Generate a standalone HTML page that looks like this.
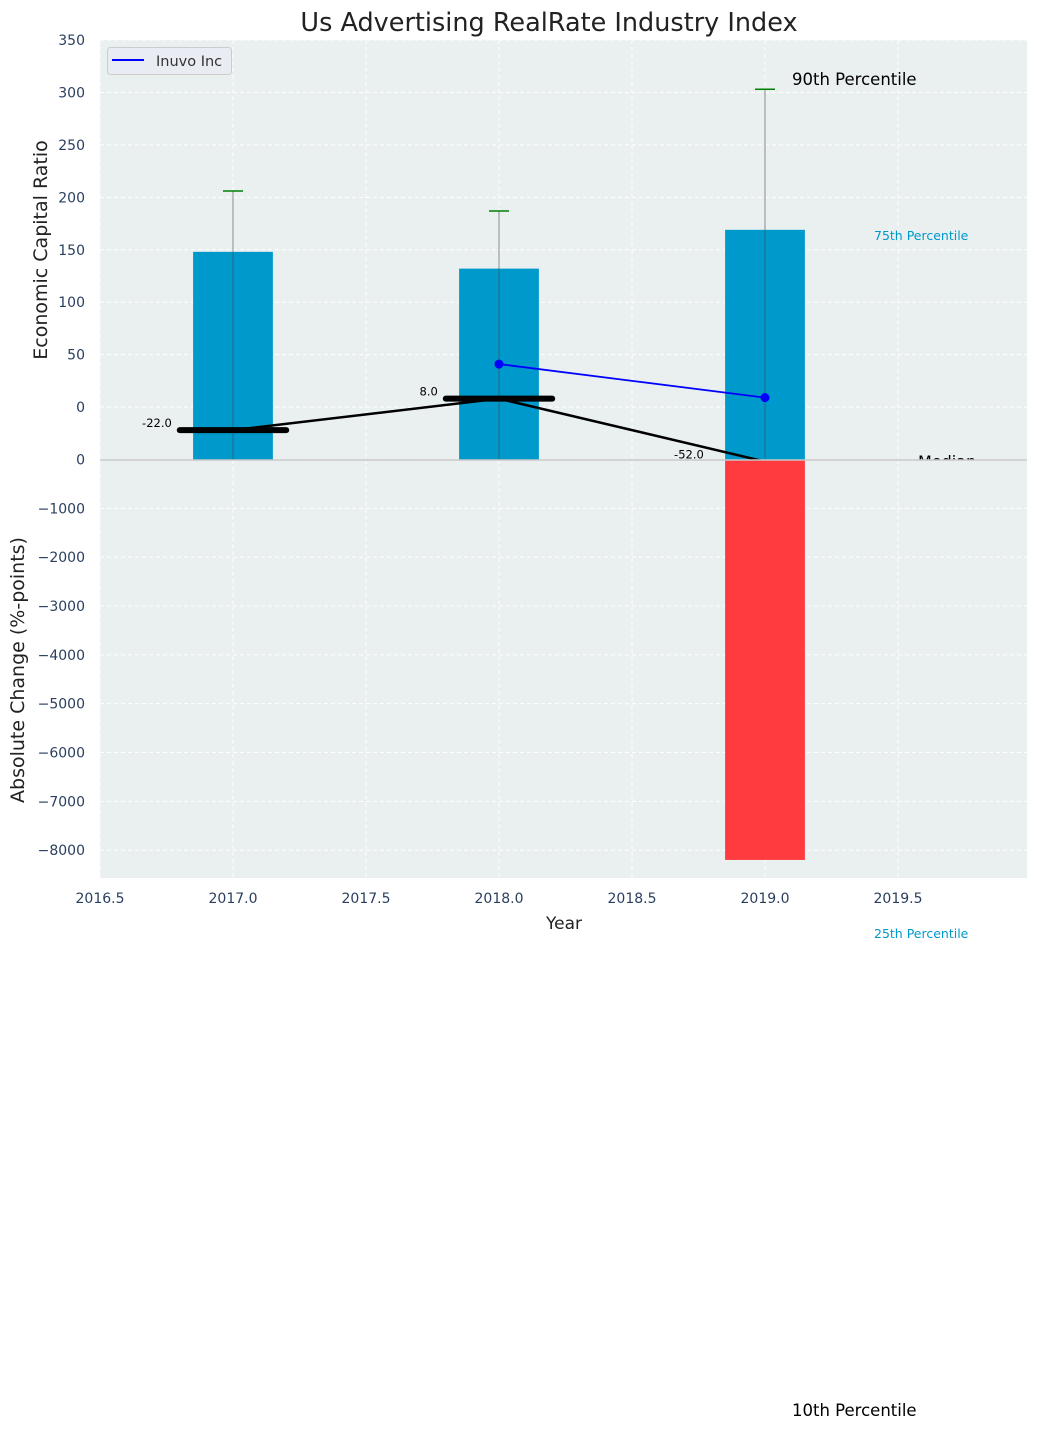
<!DOCTYPE html>
<html><head><meta charset="utf-8"><style>
body{margin:0;background:#fff}
svg text{font-family:"DejaVu Sans","Liberation Sans",sans-serif}
</style></head><body>
<svg id="c" width="1039" height="1430" xmlns="http://www.w3.org/2000/svg">
<defs>
<clipPath id="topclip"><rect x="100" y="40" width="927" height="419.5"/></clipPath>
<clipPath id="botclip"><rect x="100" y="459.5" width="927" height="418.5"/></clipPath>
</defs>
<rect x="100" y="40" width="927" height="838" fill="#eaeff0"/>
<g id="grid"></g>
<g id="top" clip-path="url(#topclip)"></g>
<g id="bot" clip-path="url(#botclip)"></g>
<g id="axes"></g>
<text x="549" y="31" font-size="25.5" text-anchor="middle" fill="#222">Us Advertising RealRate Industry Index</text>
<text x="564" y="929" font-size="17" text-anchor="middle" fill="#222">Year</text>
<text transform="translate(47,250) rotate(-90)" font-size="19" text-anchor="middle" fill="#222">Economic Capital Ratio</text>
<text transform="translate(24,670) rotate(-90)" font-size="19" text-anchor="middle" fill="#222">Absolute Change (%-points)</text>
<g>
<rect x="107.5" y="47.5" width="124" height="27" rx="3" fill="#e9ecf2" stroke="#ccc"/>
<line x1="112" y1="60" x2="144" y2="60" stroke="#0000ff" stroke-width="2"/>
<text x="156" y="66" font-size="14.5" fill="#333">Inuvo Inc</text>
</g>
<text x="792" y="85" font-size="16.5" fill="#000">90th Percentile</text>
<text x="874" y="240" font-size="12.5" fill="#0099cc">75th Percentile</text>
<text x="874" y="938" font-size="12.5" fill="#0099cc">25th Percentile</text>
<text x="792" y="1416" font-size="16.5" fill="#000">10th Percentile</text>
</svg>
<script>
const years=[2017,2018,2019];
const barValues=[148,132,169];
const capValues=[206,187,303];
const medianValues=[-22,8,-52];
const companyYears=[2018,2019];
const companyValues=[41,9];
const changeYears=[2019];
const changeValues=[-8200];
const xTicks=[2016.5,2017,2017.5,2018,2018.5,2019,2019.5];
const topTicks=[0,50,100,150,200,250,300,350];
const botTicks=[0,-1000,-2000,-3000,-4000,-5000,-6000,-7000,-8000];

const NS='http://www.w3.org/2000/svg';
const X=v=>100+(v-2016.5)*266;
const YT=v=>459.5-(v+50)*419.5/400;
const YB=v=>459.5+(-v)*418.5/8570;
function mk(parent,tag,attrs,text){const e=document.createElementNS(NS,tag);for(const k in attrs)e.setAttribute(k,attrs[k]);if(text!==undefined)e.textContent=text;document.getElementById(parent).appendChild(e);return e;}

xTicks.forEach(t=>{
 const g=mk('grid','line',{x1:X(t),x2:X(t),y1:40,y2:878,stroke:'#fff','stroke-dasharray':'4,3','stroke-width':1});
 
 
 const l=mk('axes','text',{x:X(t),y:903,'font-size':14,'text-anchor':'middle',fill:'#2a3f5f'},t.toFixed(1));
 
 
});
topTicks.forEach(t=>{
 const g=mk('grid','line',{x1:100,x2:1027,y1:YT(t),y2:YT(t),stroke:'#fff','stroke-dasharray':'4,3'});
 
 
 const l=mk('axes','text',{x:85,y:YT(t)+5,'font-size':14,'text-anchor':'end',fill:'#2a3f5f'},t);
 
 
});
botTicks.forEach(t=>{
 const g=mk('grid','line',{x1:100,x2:1027,y1:YB(t),y2:YB(t),stroke:'#fff','stroke-dasharray':'4,3'});
 
 
 const l=mk('axes','text',{x:85,y:YB(t)+5,'font-size':14,'text-anchor':'end',fill:'#2a3f5f'},t===0?'0':'\u2212'+Math.abs(t));
 
 
});

const bw=0.3*266;
years.forEach((yr,i)=>{
 const b=mk('top','rect',{x:X(yr)-bw/2,y:YT(barValues[i]),width:bw,height:YT(-50)-YT(barValues[i]),fill:'#0099cc'});
 
 
 const e=mk('top','line',{x1:X(yr),x2:X(yr),y1:YT(-50),y2:YT(capValues[i]),stroke:'#444','stroke-opacity':0.6,'stroke-width':1});
 
 
 const c=mk('top','line',{x1:X(yr)-10,x2:X(yr)+10,y1:YT(capValues[i]),y2:YT(capValues[i]),stroke:'#008000','stroke-width':1.5});
 
 
});
const mpts=years.map((yr,i)=>X(yr)+','+YT(medianValues[i])).join(' ');
const ml=mk('top','polyline',{points:mpts,fill:'none',stroke:'#000','stroke-width':2.5});


years.forEach((yr,i)=>{
 if(medianValues[i]>-48){
 const s=mk('top','line',{x1:X(yr-0.2),x2:X(yr+0.2),y1:YT(medianValues[i]),y2:YT(medianValues[i]),stroke:'#000','stroke-width':6,'stroke-linecap':'round'});
 
 
 }
 const t=mk('top','text',{x:X(yr-0.23),y:YT(medianValues[i])-3,'font-size':11.5,'text-anchor':'end',fill:'#000'},medianValues[i].toFixed(1));
 
 
});
const med=mk('top','text',{x:918,y:467,'font-size':16,fill:'#000'},'Median');


const cl=mk('top','polyline',{points:companyYears.map((yr,i)=>X(yr)+','+YT(companyValues[i])).join(' '),fill:'none',stroke:'#0000ff','stroke-width':1.8});


companyYears.forEach((yr,i)=>{
 const d=mk('top','circle',{cx:X(yr),cy:YT(companyValues[i]),r:4.5,fill:'#0000ff'});
 
 
});
changeYears.forEach((yr,i)=>{
 const v=changeValues[i];
 const b=mk('bot','rect',{x:X(yr)-bw/2,y:YB(0)+1,width:bw,height:YB(v)-YB(0)-1,fill:v<0?'#ff3b3f':'#2ca02c'});
 
 
});
const z=mk('axes','line',{x1:100,x2:1027,y1:YB(0)+0.5,y2:YB(0)+0.5,stroke:'#c8c8c8','stroke-width':1.5});


</script>
</body></html>
